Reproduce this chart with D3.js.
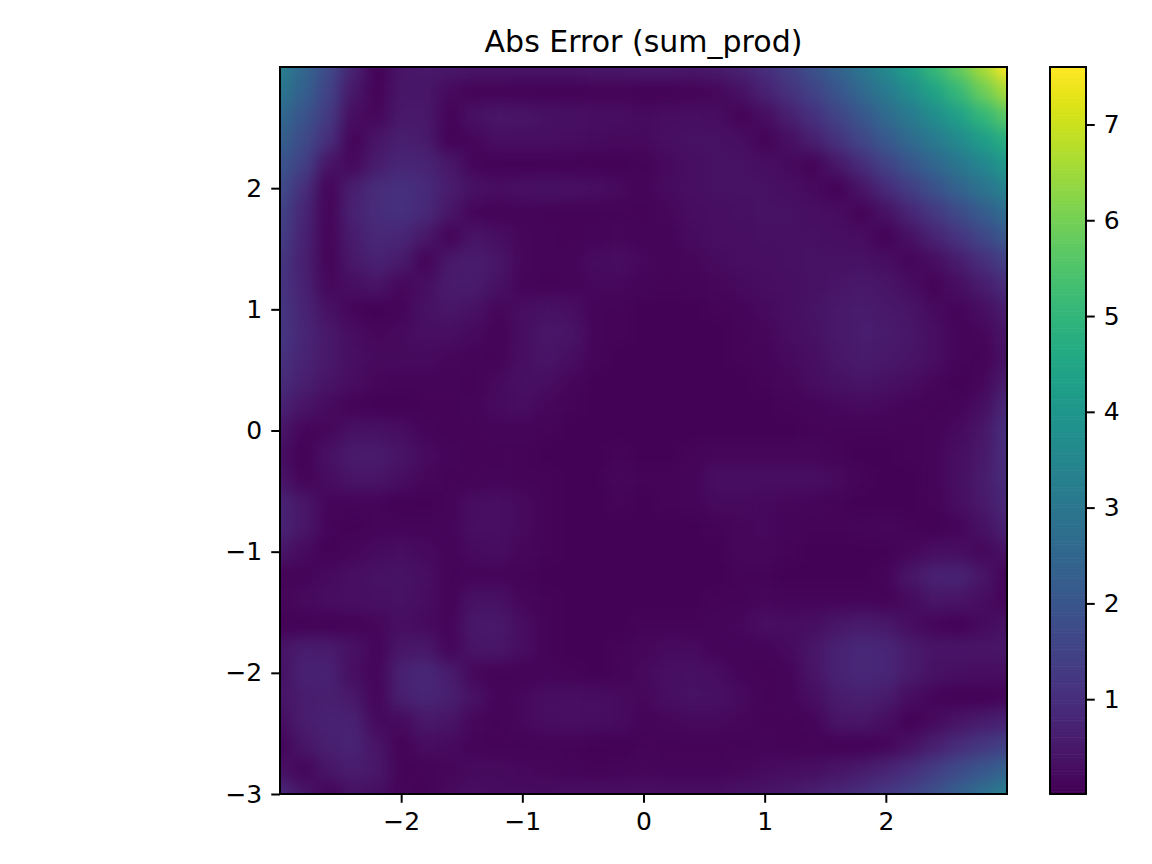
<!DOCTYPE html>
<html><head><meta charset="utf-8">
<script src="https://cdn.jsdelivr.net/npm/d3@7"></script>
<style>
html,body{margin:0;padding:0;background:#fff;}
svg{display:block;}
text{font-family:"DejaVu Sans";fill:#000;}
</style></head><body>
<svg id="c" width="1152" height="864"></svg>
<script>
const chartTitle = "Abs Error (sum_prod)";
const xTicks = [-2,-1,0,1,2];
const yTicks = [-3,-2,-1,0,1,2];
const cbarTicks = [1,2,3,4,5,6,7];
const colorDomain = [0.01,7.6];
const gridX = [-3,-2.8,-2.6,-2.4,-2.2,-2,-1.8,-1.6,-1.4,-1.2,-1,-0.8,-0.6,-0.4,-0.2,0,0.2,0.4,0.6,0.8,1,1.2,1.4,1.6,1.8,2,2.2,2.4,2.6,2.8,3];
const gridY = [3,2.8,2.6,2.4,2.2,2,1.8,1.6,1.4,1.2,1,0.8,0.6,0.4,0.2,0,-0.2,-0.4,-0.6,-0.8,-1,-1.2,-1.4,-1.6,-1.8,-2,-2.2,-2.4,-2.6,-2.8,-3];
const absError = [
[3.3,2.5,1.7,.75,.06,.4,.5,.5,.45,.45,.45,.45,.45,.5,.5,.55,.55,.5,.55,.75,1.0,1.4,1.9,2.4,3.0,3.6,4.3,5.1,5.8,6.6,7.6],
[3.0,2.3,1.5,.5,.07,.45,.45,.2,.07,.07,.06,.06,.06,.07,.07,.06,.06,.07,.15,.35,.7,1.1,1.5,2.0,2.55,3.1,3.7,4.4,5.1,5.9,6.6],
[2.6,1.95,1.3,.25,.15,.5,.5,.08,.35,.45,.42,.35,.32,.3,.28,.22,.25,.28,.25,.07,.25,.65,1.05,1.55,2.05,2.6,3.1,3.7,4.3,5.0,5.7],
[2.3,1.7,1.0,.08,.4,.65,.55,.06,.15,.3,.3,.28,.25,.22,.2,.2,.28,.35,.35,.3,.07,.3,.65,1.1,1.6,2.1,2.6,3.1,3.6,4.2,4.8],
[2.0,1.45,.4,.15,.6,.8,.75,.5,.1,.06,.06,.06,.06,.06,.06,.07,.2,.3,.35,.35,.3,.2,.07,.5,.95,1.5,2.0,2.5,3.0,3.5,4.1],
[1.75,1.0,.08,.65,.95,1.05,.9,.6,.35,.25,.32,.35,.32,.28,.2,.12,.22,.3,.35,.35,.35,.3,.2,.06,.4,.9,1.4,1.9,2.4,2.9,3.4],
[1.55,.8,.08,.7,.95,1.05,.85,.45,.12,.08,.1,.07,.08,.08,.08,.08,.15,.25,.3,.32,.35,.35,.3,.25,.07,.35,.8,1.25,1.7,2.2,2.7],
[1.4,.7,.07,.6,.85,.8,.5,.08,.4,.3,.15,.1,.08,.12,.15,.1,.12,.22,.28,.3,.32,.33,.33,.3,.25,.06,.35,.75,1.15,1.6,2.1],
[1.2,.65,.08,.5,.7,.55,.07,.5,.6,.45,.15,.1,.1,.22,.25,.18,.12,.15,.22,.28,.3,.33,.35,.35,.35,.3,.1,.25,.6,1.0,1.45],
[1.15,.7,.15,.3,.4,.15,.3,.55,.55,.35,.1,.08,.1,.18,.18,.1,.08,.1,.15,.2,.25,.3,.35,.42,.5,.4,.25,.07,.3,.6,.95],
[1.2,.75,.35,.12,.06,.1,.35,.45,.35,.15,.25,.35,.3,.12,.08,.06,.06,.06,.08,.12,.2,.28,.38,.5,.6,.5,.4,.2,.12,.3,.6],
[1.2,.8,.5,.25,.15,.2,.3,.3,.2,.08,.25,.45,.4,.12,.07,.06,.06,.06,.06,.08,.15,.25,.35,.5,.6,.55,.45,.3,.1,.15,.42],
[1.1,.75,.5,.3,.2,.2,.2,.15,.1,.07,.3,.4,.3,.1,.06,.06,.06,.06,.06,.07,.12,.2,.3,.45,.55,.5,.4,.3,.12,.07,.35],
[.95,.65,.4,.25,.15,.12,.1,.1,.08,.2,.33,.3,.15,.06,.06,.06,.06,.06,.06,.06,.08,.15,.25,.35,.4,.35,.25,.15,.06,.15,.55],
[.7,.4,.2,.08,.06,.06,.07,.08,.1,.22,.25,.15,.08,.06,.06,.06,.06,.06,.06,.06,.06,.08,.12,.18,.2,.18,.1,.08,.1,.3,.85],
[.45,.12,.15,.35,.35,.25,.12,.08,.08,.1,.1,.07,.06,.06,.06,.06,.06,.06,.06,.06,.06,.06,.07,.08,.08,.07,.07,.1,.2,.45,1.05],
[.25,.06,.35,.55,.55,.4,.22,.1,.07,.07,.07,.06,.06,.06,.08,.06,.06,.07,.15,.15,.15,.15,.15,.08,.06,.06,.07,.1,.28,.5,1.0],
[.4,.07,.25,.4,.4,.3,.15,.08,.08,.1,.07,.08,.06,.06,.15,.08,.08,.12,.28,.3,.3,.3,.3,.22,.08,.06,.06,.1,.3,.55,.95],
[.75,.45,.1,.1,.12,.06,.06,.1,.25,.3,.2,.08,.06,.06,.07,.06,.07,.1,.2,.2,.18,.15,.12,.08,.06,.06,.06,.08,.28,.5,.85],
[.75,.45,.1,.06,.12,.12,.1,.1,.28,.3,.2,.08,.06,.06,.06,.06,.06,.06,.07,.15,.18,.1,.07,.07,.12,.15,.08,.06,.12,.35,.7],
[.45,.2,.06,.15,.22,.25,.2,.1,.2,.25,.15,.07,.06,.06,.06,.06,.06,.06,.06,.15,.15,.08,.06,.06,.06,.06,.15,.3,.3,.15,.35],
[.08,.1,.2,.3,.35,.38,.3,.07,.12,.12,.08,.06,.06,.06,.06,.06,.06,.06,.06,.07,.07,.06,.06,.06,.06,.1,.45,.7,.75,.45,.06],
[.15,.2,.25,.3,.32,.35,.25,.07,.35,.35,.15,.07,.06,.06,.06,.06,.06,.06,.07,.08,.15,.12,.1,.1,.1,.07,.2,.45,.4,.25,.08],
[.06,.06,.06,.07,.15,.3,.2,.1,.5,.5,.25,.07,.06,.06,.06,.07,.07,.07,.1,.18,.28,.25,.3,.45,.55,.5,.25,.1,.06,.2,.35],
[.4,.6,.55,.35,.1,.45,.5,.1,.4,.45,.25,.07,.06,.06,.08,.15,.22,.2,.12,.1,.12,.2,.45,.7,.85,.8,.55,.4,.4,.4,.45],
[.35,.7,.7,.3,.12,.7,.85,.6,.15,.07,.08,.1,.07,.06,.08,.2,.3,.32,.25,.12,.08,.12,.4,.7,.85,.8,.55,.35,.3,.25,.25],
[.4,.6,.65,.5,.1,.65,.8,.65,.35,.1,.18,.27,.28,.27,.22,.14,.28,.35,.32,.22,.08,.1,.3,.55,.65,.55,.25,.1,.06,.06,.1],
[.3,.6,.7,.7,.2,.2,.5,.4,.15,.07,.18,.27,.28,.27,.24,.12,.15,.2,.2,.15,.08,.08,.12,.4,.45,.3,.06,.2,.4,.55,.7],
[.12,.45,.65,.75,.4,.08,.25,.2,.1,.07,.07,.08,.07,.06,.06,.07,.07,.08,.08,.08,.1,.08,.07,.06,.06,.1,.35,.65,.95,1.2,1.45],
[.35,.12,.45,.6,.5,.08,.08,.15,.2,.2,.18,.15,.1,.08,.12,.15,.12,.1,.12,.15,.2,.25,.3,.4,.55,.75,1.0,1.35,1.7,2.05,2.4],
[.85,.45,.08,.35,.3,.12,.08,.2,.25,.22,.22,.22,.28,.28,.3,.3,.3,.3,.3,.35,.4,.5,.65,.8,1.0,1.25,1.5,1.85,2.3,2.75,3.3]
];

const svg = d3.select("#c");
const L=280,R=1007,T=67,B=794, CL=1050,CR=1086;
const x = d3.scaleLinear().domain([-3,3]).range([L,R]);
const y = d3.scaleLinear().domain([-3,3]).range([B,T]);
const color = d3.scaleSequential(d3.interpolateViridis).domain(colorDomain);
const cy = d3.scaleLinear().domain(colorDomain).range([B,T]);
const halfStep = 0.1, over = 50;

const defs = svg.append("defs");
defs.append("clipPath").attr("id","plot").append("rect").attr("x",L).attr("y",T).attr("width",R-L).attr("height",B-T);
const f = defs.append("filter").attr("id","soft").attr("filterUnits","userSpaceOnUse")
  .attr("x",L-over).attr("y",T-over).attr("width",R-L+2*over).attr("height",B-T+2*over)
  .attr("color-interpolation-filters","sRGB");
f.append("feGaussianBlur").attr("stdDeviation",8);

const cells = absError.flatMap((row,j)=>row.map((v,i)=>({i,j,v})));
svg.append("g").attr("clip-path","url(#plot)")
 .append("g").attr("filter","url(#soft)")
 .selectAll("rect").data(cells).join("rect")
  .attr("x",d=>x(gridX[d.i]-halfStep)-(d.i===0?over:0))
  .attr("y",d=>y(gridY[d.j]+halfStep)-(d.j===0?over:0))
  .attr("width",d=>x(gridX[d.i]+halfStep)-x(gridX[d.i]-halfStep)+(d.i===0||d.i===gridX.length-1?over:0)+0.6)
  .attr("height",d=>y(gridY[d.j]-halfStep)-y(gridY[d.j]+halfStep)+(d.j===0||d.j===gridY.length-1?over:0)+0.6)
  .attr("fill",d=>color(d.v));

const intLabel = d3.format("d");
function styleAxis(g){
  g.select(".domain").remove();
  g.selectAll(".tick line").attr("stroke","#000").attr("stroke-width",2);
  g.selectAll(".tick text").attr("font-size",25).attr("font-family","DejaVu Sans").attr("fill","#000");
}
svg.append("g").attr("transform",`translate(0,${B})`)
  .call(d3.axisBottom(x).tickValues(xTicks).tickFormat(intLabel).tickSize(8.75).tickPadding(9)).call(styleAxis);
svg.append("g").attr("transform",`translate(${L},0)`)
  .call(d3.axisLeft(y).tickValues(yTicks).tickFormat(intLabel).tickSize(8.75).tickPadding(9)).call(styleAxis);
svg.append("rect").attr("x",L).attr("y",T).attr("width",R-L).attr("height",B-T)
  .attr("fill","none").attr("stroke","#000").attr("stroke-width",2);

svg.append("text").attr("x",(L+R)/2).attr("y",52).attr("text-anchor","middle").attr("font-size",30).text(chartTitle);

const levels = d3.range(256).map(k=>colorDomain[0]+(colorDomain[1]-colorDomain[0])*k/256);
const levelStep = (colorDomain[1]-colorDomain[0])/256;
svg.append("g").selectAll("rect").data(levels).join("rect")
  .attr("x",CL).attr("width",CR-CL)
  .attr("y",d=>cy(d+levelStep))
  .attr("height",d=>cy(d)-cy(d+levelStep)+0.6)
  .attr("fill",d=>color(d+levelStep/2));
svg.append("g").attr("transform",`translate(${CR},0)`)
  .call(d3.axisRight(cy).tickValues(cbarTicks).tickFormat(intLabel).tickSize(8.75).tickPadding(9)).call(styleAxis);
svg.append("rect").attr("x",CL).attr("y",T).attr("width",CR-CL).attr("height",B-T)
  .attr("fill","none").attr("stroke","#000").attr("stroke-width",2);
</script>
</body></html>
